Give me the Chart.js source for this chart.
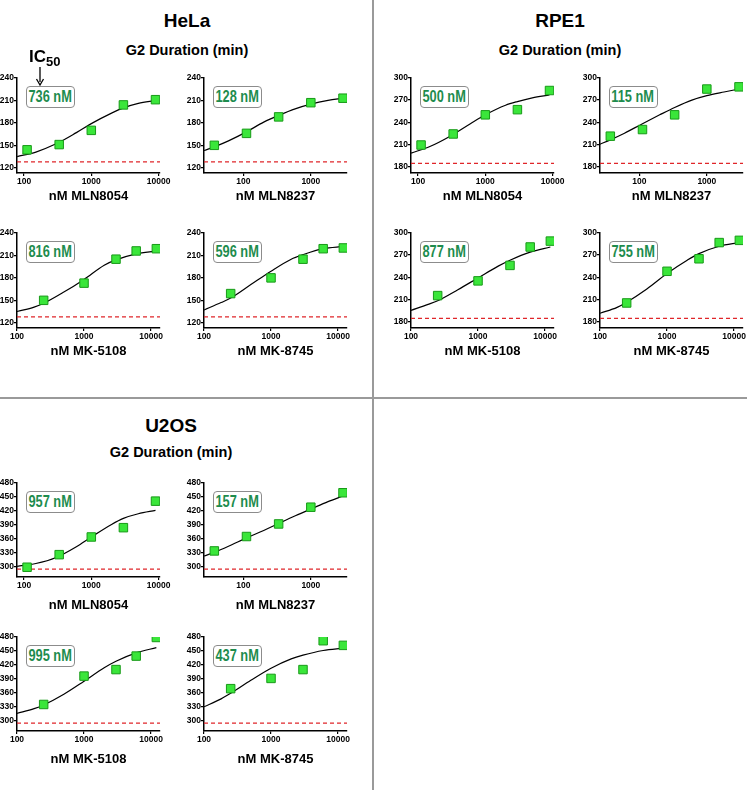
<!DOCTYPE html>
<html><head><meta charset="utf-8">
<script src="https://cdn.jsdelivr.net/npm/chart.js@4.4.1/dist/chart.umd.min.js"></script>
<style>
html,body{margin:0;padding:0;background:#fff;}
#fig{position:relative;width:747px;height:790px;overflow:hidden;background:#fff;font-family:'Liberation Sans',Arial,sans-serif;}
#fig canvas{position:absolute;}
.hdr{position:absolute;font-weight:bold;color:#000;white-space:nowrap;transform:translate(-50%,-50%);line-height:1;}
.ic{position:absolute;box-sizing:border-box;width:49px;height:22px;border:1.5px solid #8c8c8c;border-radius:4px;color:#1e8c4e;font-weight:bold;
    font-family:'Liberation Sans',Arial,sans-serif;font-size:16px;display:flex;align-items:center;justify-content:center;white-space:nowrap;background:#fff;overflow:visible;}
.ic span{display:inline-block;transform:scaleX(0.8);transform-origin:center;}
.line{position:absolute;background:#9a9a9a;}
#ic50lbl{position:absolute;left:29px;top:48px;font-weight:bold;font-size:17px;line-height:1;color:#000;}
#ic50lbl sub{font-size:13px;vertical-align:-4px;}
</style></head><body><div id="fig"></div>
<script>
// ---------------- data ----------------
const cellLines = ['HeLa', 'RPE1', 'U2OS'];
const drugs = ['MLN8054', 'MLN8237', 'MK-5108', 'MK-8745'];
const yTitle = 'G2 Duration (min)';

// drug concentrations (nM)
const doseMLN8054 = [111, 333, 1000, 3000, 9000];
const doseMLN8237 = [37, 111, 333, 1000, 3000];
const doseMK = [250, 1000, 3000, 6000, 12000];

// measured G2 duration (min)
const helaMLN8054 = [144, 151, 170, 204, 211];
const helaMLN8237 = [150, 166, 188, 207, 213];
const helaMK5108  = [150, 173, 205, 216, 219];
const helaMK8745  = [159, 180, 205, 219, 220];
const rpe1MLN8054 = [209, 224, 250, 257, 283];
const rpe1MLN8237 = [221, 230, 250, 285, 288];
const rpe1MK5108  = [215, 235, 256, 281, 289];
const rpe1MK8745  = [205, 248, 265, 287, 290];
const u2osMLN8054 = [299, 326, 364, 384, 441];
const u2osMLN8237 = [334, 365, 392, 428, 459];
const u2osMK5108  = [335, 396, 410, 439, 479];
const u2osMK8745  = [369, 391, 410, 472, 462];

// fitted dose-response curves
const fitDoseMLN8054 = [79, 150, 300, 600, 1000, 2000, 3000, 5000, 9000];
const fitDoseMLN8237 = [26, 37, 60, 111, 200, 333, 600, 1000, 1800, 3000];
const fitDoseMK = [100, 180, 250, 500, 1000, 2000, 3000, 6000, 12000];
const helaFitMLN8054 = [135, 141, 152, 167, 179, 193, 200, 206, 210];
const helaFitMLN8237 = [143, 148, 156, 168, 181, 190, 199, 205, 210, 213];
const helaFitMK5108  = [135, 141, 146, 161, 178, 197, 204, 212, 216];
const helaFitMK8745  = [137, 147, 153, 171, 189, 205, 211, 219, 222];
const rpe1FitMLN8054 = [198, 207, 221, 238, 250, 263, 268, 273, 277];
const rpe1FitMLN8237 = [210, 216, 225, 238, 250, 260, 270, 276, 281, 285];
const rpe1FitMK5108  = [195, 203, 208, 223, 239, 255, 263, 274, 281];
const rpe1FitMK8745  = [191, 199, 206, 224, 245, 263, 272, 282, 287];
const u2osFitMLN8054 = [301, 307, 320, 343, 364, 391, 404, 414, 421];
const u2osFitMLN8237 = [323, 331, 344, 362, 378, 393, 410, 424, 440, 452];
const u2osFitMK5108  = [316, 326, 334, 357, 385, 414, 428, 446, 457];
const u2osFitMK8745  = [330, 347, 359, 387, 413, 433, 441, 451, 456];

// IC50 labels
const ic50HeLa = ['736 nM', '128 nM', '816 nM', '596 nM'];
const ic50RPE1 = ['500 nM', '115 nM', '877 nM', '755 nM'];
const ic50U2OS = ['957 nM', '157 nM', '995 nM', '437 nM'];

// untreated control G2 duration (red dashed line)
const controlHeLa = 128;
const controlRPE1 = 184;
const controlU2OS = 295;

// axis ticks
const yTicksHeLa = [120, 150, 180, 210, 240];
const yTicksRPE1 = [180, 210, 240, 270, 300];
const yTicksU2OS = [300, 330, 360, 390, 420, 450, 480];
const xTickValues = [100, 1000, 10000];

// ---------------- layout / styling ----------------
const fig = document.getElementById('fig');
const TICK_FONT = {family: "'Liberation Sans',Arial,sans-serif", size: 8.5, weight: 'bold'};
const TITLE_FONT = {family: "'Liberation Sans',Arial,sans-serif", size: 13, weight: 'bold'};
const xRange = {'MLN8054': [78.6, 10500], 'MLN8237': [26, 3440], 'MK-5108': [100, 13600], 'MK-8745': [100, 13600]};
const PLOT_W = 143;

const sections = [
  {name: 'HeLa', cx: 187, nameY: 20, subY: 50, axisX: [17, 204], rowTop: [78, 233], plotH: 95, yMin: 113, yMax: 240, ticks: yTicksHeLa,
   base: controlHeLa, ic: ic50HeLa, titleOff: 23.5,
   y: [helaMLN8054, helaMLN8237, helaMK5108, helaMK8745], fy: [helaFitMLN8054, helaFitMLN8237, helaFitMK5108, helaFitMK8745]},
  {name: 'RPE1', cx: 560, nameY: 20, subY: 50, axisX: [411, 600], rowTop: [78, 233], plotH: 95, yMin: 171, yMax: 300, ticks: yTicksRPE1,
   base: controlRPE1, ic: ic50RPE1, titleOff: 23.5,
   y: [rpe1MLN8054, rpe1MLN8237, rpe1MK5108, rpe1MK8745], fy: [rpe1FitMLN8054, rpe1FitMLN8237, rpe1FitMK5108, rpe1FitMK8745]},
  {name: 'U2OS', cx: 171, nameY: 425, subY: 452, axisX: [17, 204], rowTop: [483, 637], plotH: 94, yMin: 278, yMax: 480, ticks: yTicksU2OS,
   base: controlU2OS, ic: ic50U2OS, titleOff: 28,
   y: [u2osMLN8054, u2osMLN8237, u2osMK5108, u2osMK8745], fy: [u2osFitMLN8054, u2osFitMLN8237, u2osFitMK5108, u2osFitMK8745]},
];
const doses = [doseMLN8054, doseMLN8237, doseMK, doseMK];
const fitDoses = [fitDoseMLN8054, fitDoseMLN8237, fitDoseMK, fitDoseMK];

function addDiv(cls, html, style) {
  const d = document.createElement('div');
  d.className = cls; d.innerHTML = html;
  Object.assign(d.style, style);
  fig.appendChild(d);
  return d;
}

// dividers
addDiv('line', '', {left: '372px', top: '0px', width: '2px', height: '790px'});
addDiv('line', '', {left: '0px', top: '397px', width: '747px', height: '2px'});

function makePanel(sec, k) {
  const col = k % 2, row = Math.floor(k / 2);
  const drug = drugs[k];
  const axisX = sec.axisX[col], topY = sec.rowTop[row];
  const L = 30, T = 12, R = 18, B = 44;
  const W = L + PLOT_W + R, H = T + sec.plotH + B;
  const c = document.createElement('canvas');
  c.width = W; c.height = H;
  Object.assign(c.style, {left: (axisX - L) + 'px', top: (topY - T) + 'px', width: W + 'px', height: H + 'px'});
  fig.appendChild(c);
  const [xmin, xmax] = xRange[drug];
  const dose = doses[k], vals = sec.y[k], fd = fitDoses[k], fv = sec.fy[k];
  new Chart(c, {
    type: 'scatter',
    data: {datasets: [
      {type: 'line', data: [{x: xmin, y: sec.base}, {x: xmax, y: sec.base}], borderColor: '#e0262a', borderWidth: 1.3,
       borderDash: [4, 3], pointRadius: 0, order: 3},
      {type: 'line', data: fd.map((x, i) => ({x, y: fv[i]})), borderColor: '#000', borderWidth: 1.2, pointRadius: 0,
       cubicInterpolationMode: 'monotone', order: 2},
      {type: 'scatter', data: dose.map((x, i) => ({x, y: vals[i]})), pointStyle: 'rect', pointRadius: 6,
       backgroundColor: '#3ae63a', borderColor: '#189a18', borderWidth: 1, order: 1}
    ]},
    options: {
      responsive: false, animation: false, devicePixelRatio: 1,
      layout: {padding: {left: 0, top: T, right: R, bottom: 0}},
      plugins: {legend: {display: false}, tooltip: {enabled: false}},
      scales: {
        x: {type: 'logarithmic', min: xmin, max: xmax,
          afterBuildTicks: s => { s.ticks = xTickValues.filter(v => v >= xmin && v <= xmax).map(v => ({value: v})); },
          afterFit: s => { s.height = B; },
          grid: {display: true, drawOnChartArea: false, drawTicks: true, tickLength: 3, color: '#000', lineWidth: 1.2},
          border: {display: true, color: '#000', width: 1.5},
          ticks: {font: TICK_FONT, color: '#000', padding: 1, maxRotation: 0, autoSkip: false, callback: v => String(v)},
          title: {display: true, text: 'nM ' + drug, font: TITLE_FONT, color: '#000',
                  padding: {top: 0, bottom: B - 7.8 - sec.titleOff}}
        },
        y: {min: sec.yMin, max: sec.yMax,
          afterBuildTicks: s => { s.ticks = sec.ticks.map(v => ({value: v})); },
          afterFit: s => { s.width = L; },
          grid: {display: true, drawOnChartArea: false, drawTicks: true, tickLength: 3, color: '#000', lineWidth: 1.2},
          border: {display: true, color: '#000', width: 1.5},
          ticks: {font: TICK_FONT, color: '#000', padding: 0}
        }
      }
    }
  });
  addDiv('ic', '<span>' + sec.ic[k] + '</span>', {left: (axisX + 8.5) + 'px', top: (topY + 8) + 'px'});
}

sections.forEach(sec => {
  addDiv('hdr', sec.name, {left: sec.cx + 'px', top: sec.nameY + 'px', fontSize: '19px'});
  addDiv('hdr', yTitle, {left: sec.cx + 'px', top: sec.subY + 'px', fontSize: '14.5px'});
  for (let k = 0; k < 4; k++) makePanel(sec, k);
});

// IC50 annotation with arrow
addDiv('', 'IC<sub>50</sub>', {}).id = 'ic50lbl';
const svgNS = 'http://www.w3.org/2000/svg';
const svg = document.createElementNS(svgNS, 'svg');
svg.setAttribute('width', '20'); svg.setAttribute('height', '24');
Object.assign(svg.style, {position: 'absolute', left: '30px', top: '66px'});
svg.innerHTML = '<line x1="10" y1="1" x2="10" y2="16" stroke="#000" stroke-width="1.3"/><path d="M6.5,13 L10,19 L13.5,13" fill="none" stroke="#000" stroke-width="1.3"/>';
fig.appendChild(svg);
</script></body></html>
